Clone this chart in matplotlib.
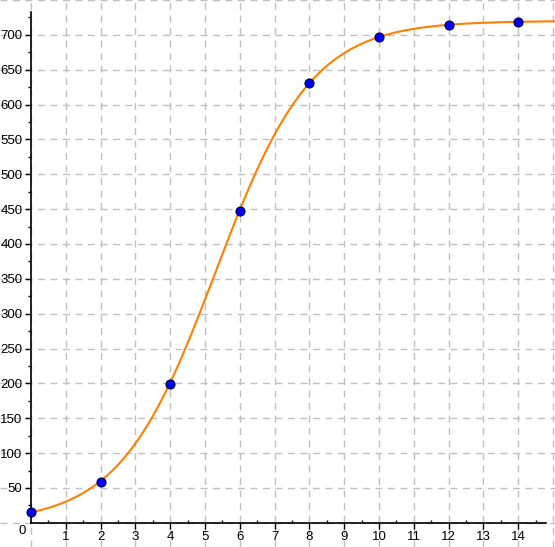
import numpy as np
import matplotlib.pyplot as plt

plt.rcParams['font.family'] = ['Liberation Sans', 'DejaVu Sans']

# data points
x_pts = [0, 2, 4, 6, 8, 10, 12, 14]
y_pts = [15, 59, 199, 448, 631, 697, 714, 718]

# logistic fit parameters: y = c / (1 + a*exp(-b*x))
fit_c = 720.0
fit_a = 47.0
fit_b = 0.7255

x_ticks = list(range(1, 15))
y_ticks = list(range(50, 701, 50))

fig = plt.figure(figsize=(5.55, 5.47), dpi=100)
ax = fig.add_axes([0, 0, 1, 1])
ax.set_xlim(-0.89, 15.06)
ax.set_ylim(-34.7, 750)

# grid through whole figure
for xv in range(0, 16):
    ax.axvline(xv, color='#c0c0c0', lw=1, ls=(0, (5, 4)), zorder=0)
for yv in range(0, 751, 50):
    ax.axhline(yv, color='#c0c0c0', lw=1, ls=(0, (5, 4)), zorder=0)

# axes through origin
for s in ['top', 'right']:
    ax.spines[s].set_visible(False)
ax.spines['left'].set_position(('data', 0))
ax.spines['bottom'].set_position(('data', 0))
ax.spines['left'].set_bounds(0, 733)
ax.spines['bottom'].set_bounds(0, 14.8)
ax.spines['left'].set_linewidth(1.2)
ax.spines['bottom'].set_linewidth(1.2)

ax.set_xticks(x_ticks)
ax.set_yticks(y_ticks)
ax.set_xticks(np.arange(0.5, 15, 1), minor=True)
ax.set_yticks(np.arange(25, 730, 50), minor=True)
ax.tick_params(which='major', direction='out', length=4, width=1, labelsize=9.5, pad=2)
ax.tick_params(axis='y', which='minor', direction='out', length=2, width=1)
ax.tick_params(axis='x', which='minor', direction='in', length=2, width=1)
ax.text(-0.26, -12, '0', ha='center', va='center', fontsize=9.5)

# fitted curve
xs = np.linspace(0, 15.1, 400)
ys = fit_c / (1 + fit_a * np.exp(-fit_b * xs))
ax.plot(xs, ys, color='#ff8000', lw=1.5, zorder=3)

ax.plot(x_pts, y_pts, 'o', color='#0000ff', mec='#000040', mew=0.8, ms=6.5, zorder=4)

plt.savefig('out.png', dpi=100)
